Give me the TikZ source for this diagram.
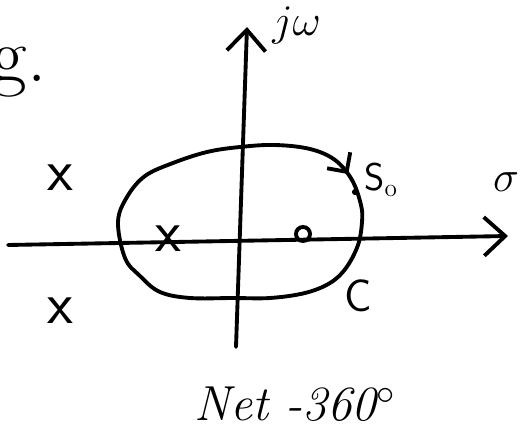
\documentclass[tikz,border=0pt]{standalone}
\usepackage{amsmath,amssymb}
\usetikzlibrary{arrows.meta,decorations.markings}

\begin{document}
\begin{tikzpicture}[
    x=0.02cm, y=-0.02cm,
    axisline/.style={black, line width=2.2pt, line cap=round,
        -{Straight Barb[length=12pt, width=22pt]}},
    contour/.style={black, line width=2.2pt, postaction={decorate},
        decoration={markings, mark=at position 0.375 with
            {\arrow{Straight Barb[length=8pt, width=16pt]}}}},
    polemark/.style={font=\sffamily\fontsize{34}{36}\selectfont, inner sep=0pt},
    zeromark/.style={circle, draw, line width=2.2pt, minimum size=8pt, inner sep=0pt},
    ptdot/.style={circle, fill=black, minimum size=3.5pt, inner sep=0pt},
    axlabel/.style={font=\fontsize{26}{28}\selectfont, inner sep=0pt},
]

\useasboundingbox (0,0) rectangle (521,432);

% ── Axes ────────────────────────────────────────────────────
\coordinate (re0) at (8,245);
\coordinate (re1) at (508,236);
\coordinate (im0) at (236,347);
\coordinate (im1) at (247,27);
\draw[axisline] (re0) -- (re1);
\draw[axisline] (im0) -- (im1);

\node[axlabel, anchor=base west] (jw) at (272,36) {$j\omega$};
\node[axlabel, font=\fontsize{32}{34}\selectfont] (sig) at (506,182) {$\sigma$};

% ── Contour C (clockwise) ───────────────────────────────────
\draw[contour] plot[smooth cycle, tension=0.6] coordinates {
    (118,222) (127,197) (145,176) (173,163) (207,152) (240,147)
    (275,145) (310,149) (335,160) (352,180) (361,205) (362,222)
    (358,245) (346,268) (330,283) (305,293) (270,298) (233,298)
    (190,298) (160,292) (140,276) (125,258)};

\node[ptdot] (s0) at (355,192) {};
\node[font=\sffamily\fontsize{22}{24}\selectfont, anchor=west, inner sep=0pt]
    (s0lab) at (364,180) {S$_\mathrm{o}$};
\node[font=\sffamily\fontsize{26}{28}\selectfont, inner sep=0pt] (clab) at (358,296) {C};

% ── Poles and zero ──────────────────────────────────────────
\foreach \nm/\px/\py in {p1/60/178, p2/60/311, p3/168/239} {
    \node[polemark] (\nm) at (\px,\py) {x};
}
\node[zeromark] (z1) at (303,234) {};

% ── Text ────────────────────────────────────────────────────
\node[font=\fontsize{44}{46}\selectfont, anchor=base east, inner sep=0pt]
    (eg) at (47,82) {eg.};
\node[font=\fontsize{28}{30}\selectfont\itshape, inner sep=0pt]
    (net) at (295,404) {Net -360$^\circ$};

\end{tikzpicture}
\end{document}
